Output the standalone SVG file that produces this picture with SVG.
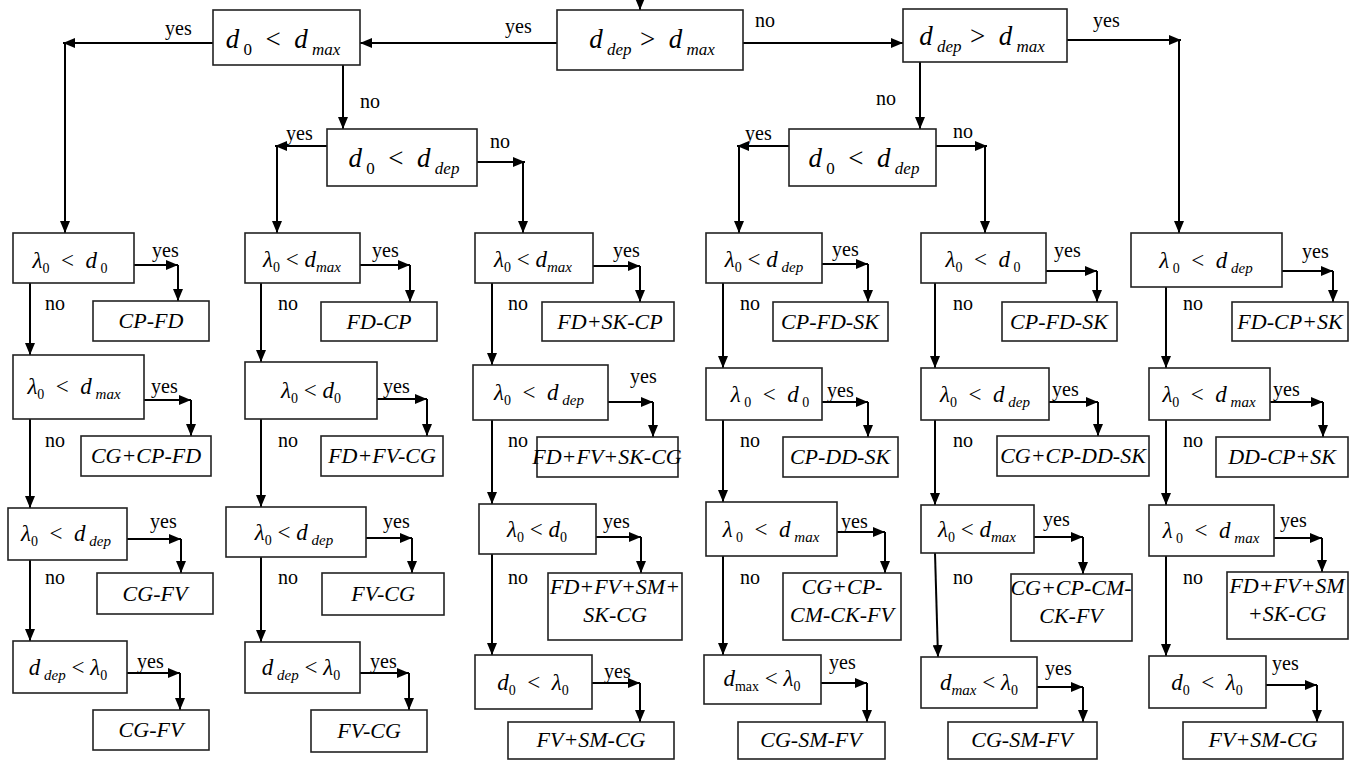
<svg xmlns="http://www.w3.org/2000/svg" width="1350" height="760" viewBox="0 0 1350 760">
<defs>
<marker id="ah" viewBox="0 0 12 10" refX="12" refY="5" markerWidth="12" markerHeight="10" markerUnits="userSpaceOnUse" orient="auto"><path d="M0,0 L12,5 L0,10 z" fill="#000"/></marker>
<style>
text{font-family:"Liberation Serif","Times New Roman","DejaVu Serif",serif;fill:#000}
.box{fill:#fff;stroke:#222;stroke-width:1.6}
.ln{stroke:#000;stroke-width:2;fill:none;marker-end:url(#ah)}
.lbl{font-size:20px}
.res{font-style:italic;font-size:22px;text-anchor:middle}
.dl{font-size:23px;text-anchor:middle;white-space:pre}
.dt{font-size:27px;text-anchor:middle;white-space:pre}
.it{font-style:italic}
.sb{font-size:14px;font-style:normal}
.si{font-size:15px;font-style:italic}
.st{font-size:17px;font-style:italic}
.sn{font-size:17px;font-style:normal}
</style>
</defs>
<rect width="1350" height="760" fill="#fff"/>
<g id="connectors">
<line class="ln" x1="640" y1="-4" x2="640" y2="10"/>
<line class="ln" x1="557" y1="43" x2="360" y2="43"/>
<line class="ln" x1="213" y1="43" x2="63" y2="43"/>
<line class="ln" x1="65" y1="43" x2="65" y2="233"/>
<line class="ln" x1="343" y1="65" x2="343" y2="129"/>
<line class="ln" x1="327" y1="146" x2="275" y2="146"/>
<line class="ln" x1="277" y1="146" x2="277" y2="233"/>
<line class="ln" x1="477" y1="162" x2="525" y2="162"/>
<line class="ln" x1="523" y1="162" x2="523" y2="233"/>
<line class="ln" x1="743" y1="43" x2="903" y2="43"/>
<line class="ln" x1="1067" y1="40" x2="1181" y2="40"/>
<line class="ln" x1="1179" y1="40" x2="1179" y2="233"/>
<line class="ln" x1="920" y1="62" x2="920" y2="129"/>
<line class="ln" x1="789" y1="146" x2="737" y2="146"/>
<line class="ln" x1="739" y1="146" x2="739" y2="233"/>
<line class="ln" x1="936" y1="146" x2="987" y2="146"/>
<line class="ln" x1="985" y1="146" x2="985" y2="233"/>
<line class="ln" x1="30" y1="283" x2="30" y2="355"/>
<line class="ln" x1="30" y1="419" x2="30" y2="508"/>
<line class="ln" x1="30" y1="560" x2="30" y2="641"/>
<line class="ln" x1="134" y1="265" x2="178" y2="265"/>
<line class="ln" x1="178" y1="265" x2="178" y2="301"/>
<line class="ln" x1="144" y1="400" x2="191" y2="400"/>
<line class="ln" x1="191" y1="400" x2="191" y2="436"/>
<line class="ln" x1="127" y1="539" x2="181" y2="539"/>
<line class="ln" x1="181" y1="539" x2="181" y2="573"/>
<line class="ln" x1="127" y1="673" x2="180" y2="673"/>
<line class="ln" x1="180" y1="673" x2="180" y2="710"/>
<line class="ln" x1="261" y1="283" x2="261" y2="362"/>
<line class="ln" x1="261" y1="419" x2="261" y2="507"/>
<line class="ln" x1="261" y1="557" x2="261" y2="642"/>
<line class="ln" x1="360" y1="265" x2="410" y2="265"/>
<line class="ln" x1="410" y1="265" x2="410" y2="302"/>
<line class="ln" x1="377" y1="399" x2="427" y2="399"/>
<line class="ln" x1="427" y1="399" x2="427" y2="436"/>
<line class="ln" x1="366" y1="538" x2="412" y2="538"/>
<line class="ln" x1="412" y1="538" x2="412" y2="573"/>
<line class="ln" x1="360" y1="673" x2="409" y2="673"/>
<line class="ln" x1="409" y1="673" x2="409" y2="710"/>
<line class="ln" x1="492" y1="283" x2="492" y2="365"/>
<line class="ln" x1="492" y1="420" x2="492" y2="504"/>
<line class="ln" x1="492" y1="554" x2="492" y2="655"/>
<line class="ln" x1="593" y1="266" x2="640" y2="266"/>
<line class="ln" x1="640" y1="266" x2="640" y2="302"/>
<line class="ln" x1="608" y1="402" x2="653" y2="402"/>
<line class="ln" x1="653" y1="402" x2="653" y2="437"/>
<line class="ln" x1="596" y1="537" x2="641" y2="537"/>
<line class="ln" x1="641" y1="537" x2="641" y2="573"/>
<line class="ln" x1="592" y1="683" x2="640" y2="683"/>
<line class="ln" x1="640" y1="683" x2="640" y2="722"/>
<line class="ln" x1="723" y1="283" x2="723" y2="368"/>
<line class="ln" x1="723" y1="420" x2="723" y2="502"/>
<line class="ln" x1="723" y1="556" x2="723" y2="655"/>
<line class="ln" x1="822" y1="264" x2="868" y2="264"/>
<line class="ln" x1="868" y1="264" x2="868" y2="302"/>
<line class="ln" x1="822" y1="402" x2="868" y2="402"/>
<line class="ln" x1="868" y1="402" x2="868" y2="437"/>
<line class="ln" x1="837" y1="532" x2="885" y2="532"/>
<line class="ln" x1="885" y1="532" x2="885" y2="573"/>
<line class="ln" x1="821" y1="683" x2="867" y2="683"/>
<line class="ln" x1="867" y1="683" x2="867" y2="722"/>
<line class="ln" x1="935" y1="283" x2="935" y2="368"/>
<line class="ln" x1="935" y1="420" x2="935" y2="505"/>
<line class="ln" x1="935" y1="553" x2="938" y2="657"/>
<line class="ln" x1="1046" y1="271" x2="1097" y2="271"/>
<line class="ln" x1="1097" y1="271" x2="1097" y2="302"/>
<line class="ln" x1="1049" y1="402" x2="1098" y2="402"/>
<line class="ln" x1="1098" y1="402" x2="1098" y2="436"/>
<line class="ln" x1="1034" y1="537" x2="1083" y2="537"/>
<line class="ln" x1="1083" y1="537" x2="1083" y2="574"/>
<line class="ln" x1="1037" y1="687" x2="1083" y2="687"/>
<line class="ln" x1="1083" y1="687" x2="1083" y2="722"/>
<line class="ln" x1="1166" y1="287" x2="1166" y2="368"/>
<line class="ln" x1="1166" y1="420" x2="1166" y2="505"/>
<line class="ln" x1="1166" y1="556" x2="1166" y2="656"/>
<line class="ln" x1="1282" y1="271" x2="1333" y2="271"/>
<line class="ln" x1="1333" y1="271" x2="1333" y2="302"/>
<line class="ln" x1="1270" y1="402" x2="1323" y2="402"/>
<line class="ln" x1="1323" y1="402" x2="1323" y2="437"/>
<line class="ln" x1="1274" y1="538" x2="1322" y2="538"/>
<line class="ln" x1="1322" y1="538" x2="1322" y2="572"/>
<line class="ln" x1="1266" y1="685" x2="1317" y2="685"/>
<line class="ln" x1="1317" y1="685" x2="1317" y2="722"/>
</g>
<g id="edge-labels">
<text class="lbl" x="505" y="33">yes</text>
<text class="lbl" x="755" y="27">no</text>
<text class="lbl" x="165" y="35">yes</text>
<text class="lbl" x="360" y="108">no</text>
<text class="lbl" x="286" y="140">yes</text>
<text class="lbl" x="490" y="148">no</text>
<text class="lbl" x="1093" y="27">yes</text>
<text class="lbl" x="876" y="105">no</text>
<text class="lbl" x="745" y="140">yes</text>
<text class="lbl" x="953" y="138">no</text>
<text class="lbl" x="45" y="310">no</text><text class="lbl" x="45" y="447">no</text><text class="lbl" x="45" y="584">no</text>
<text class="lbl" x="278" y="310">no</text><text class="lbl" x="278" y="447">no</text><text class="lbl" x="278" y="584">no</text>
<text class="lbl" x="508" y="310">no</text><text class="lbl" x="508" y="447">no</text><text class="lbl" x="508" y="584">no</text>
<text class="lbl" x="740" y="310">no</text><text class="lbl" x="740" y="447">no</text><text class="lbl" x="740" y="584">no</text>
<text class="lbl" x="953" y="310">no</text><text class="lbl" x="953" y="447">no</text><text class="lbl" x="953" y="584">no</text>
<text class="lbl" x="1183" y="310">no</text><text class="lbl" x="1183" y="447">no</text><text class="lbl" x="1183" y="584">no</text>
<text class="lbl" x="152" y="257">yes</text>
<text class="lbl" x="151" y="393">yes</text>
<text class="lbl" x="150" y="528">yes</text>
<text class="lbl" x="137" y="668">yes</text>
<text class="lbl" x="372" y="257">yes</text>
<text class="lbl" x="383" y="393">yes</text>
<text class="lbl" x="383" y="528">yes</text>
<text class="lbl" x="370" y="668">yes</text>
<text class="lbl" x="613" y="257">yes</text>
<text class="lbl" x="630" y="383">yes</text>
<text class="lbl" x="603" y="528">yes</text>
<text class="lbl" x="604" y="678">yes</text>
<text class="lbl" x="832" y="256">yes</text>
<text class="lbl" x="827" y="397">yes</text>
<text class="lbl" x="841" y="528">yes</text>
<text class="lbl" x="829" y="669">yes</text>
<text class="lbl" x="1054" y="257">yes</text>
<text class="lbl" x="1052" y="396">yes</text>
<text class="lbl" x="1043" y="526">yes</text>
<text class="lbl" x="1045" y="675">yes</text>
<text class="lbl" x="1302" y="258">yes</text>
<text class="lbl" x="1273" y="396">yes</text>
<text class="lbl" x="1280" y="527">yes</text>
<text class="lbl" x="1272" y="670">yes</text>
</g>
<g id="n-top"><rect class="box" x="557" y="10" width="186" height="60"/><text class="dt" x="652" y="48"><tspan class="it">d</tspan><tspan class="st" dy="7"> dep  </tspan><tspan dy="-7">&gt;  </tspan><tspan class="it">d</tspan><tspan class="st" dy="7"> max</tspan></text></g>
<g id="n-top-left"><rect class="box" x="213" y="10" width="147" height="55"/><text class="dt" x="283" y="48"><tspan class="it">d</tspan><tspan class="sn" dy="7"> 0</tspan><tspan dy="-7">  &lt;  </tspan><tspan class="it">d</tspan><tspan class="st" dy="7"> max</tspan></text></g>
<g id="n-top-right"><rect class="box" x="903" y="9" width="164" height="53"/><text class="dt" x="982" y="45"><tspan class="it">d</tspan><tspan class="st" dy="7"> dep  </tspan><tspan dy="-7">&gt;  </tspan><tspan class="it">d</tspan><tspan class="st" dy="7"> max</tspan></text></g>
<g id="n-mid-left"><rect class="box" x="327" y="129" width="150" height="57"/><text class="dt" x="404" y="167"><tspan class="it">d</tspan><tspan class="sn" dy="7"> 0</tspan><tspan dy="-7">  &lt;  </tspan><tspan class="it">d</tspan><tspan class="st" dy="7"> dep</tspan></text></g>
<g id="n-mid-right"><rect class="box" x="789" y="129" width="147" height="57"/><text class="dt" x="864" y="167"><tspan class="it">d</tspan><tspan class="sn" dy="7"> 0</tspan><tspan dy="-7">  &lt;  </tspan><tspan class="it">d</tspan><tspan class="st" dy="7"> dep</tspan></text></g>
<g id="a1"><rect class="box" x="13" y="233" width="121" height="50"/><text class="dl" x="70" y="268"><tspan class="it">λ</tspan><tspan class="sb" dy="5">0</tspan><tspan dy="-5">  &lt;  </tspan><tspan class="it">d</tspan><tspan class="sb" dy="5"> 0</tspan></text></g>
<g id="ra1"><rect class="box" x="93" y="301" width="116" height="40"/><text class="res" x="151" y="328">CP-FD</text></g>
<g id="a2"><rect class="box" x="13" y="355" width="131" height="64"/><text class="dl" x="74" y="394"><tspan class="it">λ</tspan><tspan class="sb" dy="5">0</tspan><tspan dy="-5">  &lt;  </tspan><tspan class="it">d</tspan><tspan class="si" dy="5"> max</tspan></text></g>
<g id="ra2"><rect class="box" x="81" y="436" width="130" height="40"/><text class="res" x="146" y="463">CG+CP-FD</text></g>
<g id="a3"><rect class="box" x="8" y="508" width="119" height="52"/><text class="dl" x="66" y="541"><tspan class="it">λ</tspan><tspan class="sb" dy="5">0</tspan><tspan dy="-5">  &lt;  </tspan><tspan class="it">d</tspan><tspan class="si" dy="5"> dep</tspan></text></g>
<g id="ra3"><rect class="box" x="97" y="573" width="116" height="41"/><text class="res" x="155" y="601">CG-FV</text></g>
<g id="a4"><rect class="box" x="13" y="641" width="114" height="52"/><text class="dl" x="68" y="675"><tspan class="it">d</tspan><tspan class="si" dy="5"> dep</tspan><tspan dy="-5"> &lt; </tspan><tspan class="it">λ</tspan><tspan class="sb" dy="5">0</tspan></text></g>
<g id="ra4"><rect class="box" x="93" y="710" width="116" height="40"/><text class="res" x="151" y="737">CG-FV</text></g>
<g id="b1"><rect class="box" x="245" y="233" width="115" height="50"/><text class="dl" x="302" y="267"><tspan class="it">λ</tspan><tspan class="sb" dy="5">0</tspan><tspan dy="-5"> &lt; </tspan><tspan class="it">d</tspan><tspan class="si" dy="5">max</tspan></text></g>
<g id="rb1"><rect class="box" x="321" y="302" width="116" height="39"/><text class="res" x="379" y="329">FD-CP</text></g>
<g id="b2"><rect class="box" x="245" y="362" width="132" height="57"/><text class="dl" x="311" y="398"><tspan class="it">λ</tspan><tspan class="sb" dy="5">0</tspan><tspan dy="-5"> &lt; </tspan><tspan class="it">d</tspan><tspan class="sb" dy="5">0</tspan></text></g>
<g id="rb2"><rect class="box" x="321" y="436" width="122" height="40"/><text class="res" x="382" y="463">FD+FV-CG</text></g>
<g id="b3"><rect class="box" x="226" y="507" width="140" height="50"/><text class="dl" x="294" y="540"><tspan class="it">λ</tspan><tspan class="sb" dy="5">0</tspan><tspan dy="-5"> &lt; </tspan><tspan class="it">d</tspan><tspan class="si" dy="5"> dep</tspan></text></g>
<g id="rb3"><rect class="box" x="322" y="573" width="122" height="42"/><text class="res" x="383" y="601">FV-CG</text></g>
<g id="b4"><rect class="box" x="245" y="642" width="115" height="51"/><text class="dl" x="301" y="675"><tspan class="it">d</tspan><tspan class="si" dy="5"> dep</tspan><tspan dy="-5"> &lt; </tspan><tspan class="it">λ</tspan><tspan class="sb" dy="5">0</tspan></text></g>
<g id="rb4"><rect class="box" x="311" y="710" width="116" height="42"/><text class="res" x="369" y="738">FV-CG</text></g>
<g id="c1"><rect class="box" x="475" y="233" width="118" height="50"/><text class="dl" x="533" y="267"><tspan class="it">λ</tspan><tspan class="sb" dy="5">0</tspan><tspan dy="-5"> &lt; </tspan><tspan class="it">d</tspan><tspan class="si" dy="5">max</tspan></text></g>
<g id="rc1"><rect class="box" x="542" y="302" width="132" height="39"/><text class="res" x="610" y="329">FD+SK-CP</text></g>
<g id="c2"><rect class="box" x="473" y="365" width="135" height="55"/><text class="dl" x="539" y="400"><tspan class="it">λ</tspan><tspan class="sb" dy="5">0</tspan><tspan dy="-5">  &lt;  </tspan><tspan class="it">d</tspan><tspan class="si" dy="5"> dep</tspan></text></g>
<g id="rc2"><rect class="box" x="537" y="437" width="141" height="40"/><text class="res" x="607" y="464">FD+FV+SK-CG</text></g>
<g id="c3"><rect class="box" x="479" y="504" width="117" height="50"/><text class="dl" x="537" y="537"><tspan class="it">λ</tspan><tspan class="sb" dy="5">0</tspan><tspan dy="-5"> &lt; </tspan><tspan class="it">d</tspan><tspan class="sb" dy="5">0</tspan></text></g>
<g id="rc3"><rect class="box" x="548" y="573" width="134" height="67"/><text class="res" x="615" y="594">FD+FV+SM+</text><text class="res" x="615" y="622">SK-CG</text></g>
<g id="c4"><rect class="box" x="475" y="655" width="117" height="54"/><text class="dl" x="533" y="690"><tspan class="it">d</tspan><tspan class="sb" dy="5">0</tspan><tspan dy="-5">  &lt;  </tspan><tspan class="it">λ</tspan><tspan class="sb" dy="5">0</tspan></text></g>
<g id="rc4"><rect class="box" x="508" y="722" width="166" height="37"/><text class="res" x="591" y="747">FV+SM-CG</text></g>
<g id="d1"><rect class="box" x="706" y="233" width="116" height="50"/><text class="dl" x="764" y="267"><tspan class="it">λ</tspan><tspan class="sb" dy="5">0</tspan><tspan dy="-5"> &lt; </tspan><tspan class="it">d</tspan><tspan class="si" dy="5"> dep</tspan></text></g>
<g id="rd1"><rect class="box" x="773" y="302" width="115" height="39"/><text class="res" x="830" y="329">CP-FD-SK</text></g>
<g id="d2"><rect class="box" x="706" y="368" width="116" height="52"/><text class="dl" x="770" y="402"><tspan class="it">λ</tspan><tspan class="sb" dy="5"> 0</tspan><tspan dy="-5">  &lt;  </tspan><tspan class="it">d</tspan><tspan class="sb" dy="5"> 0</tspan></text></g>
<g id="rd2"><rect class="box" x="783" y="437" width="115" height="40"/><text class="res" x="840" y="464">CP-DD-SK</text></g>
<g id="d3"><rect class="box" x="706" y="502" width="131" height="54"/><text class="dl" x="771" y="537"><tspan class="it">λ</tspan><tspan class="sb" dy="5"> 0</tspan><tspan dy="-5">  &lt;  </tspan><tspan class="it">d</tspan><tspan class="si" dy="5"> max</tspan></text></g>
<g id="rd3"><rect class="box" x="783" y="573" width="118" height="67"/><text class="res" x="842" y="594">CG+CP-</text><text class="res" x="842" y="622">CM-CK-FV</text></g>
<g id="d4"><rect class="box" x="704" y="655" width="117" height="49"/><text class="dl" x="762" y="686"><tspan class="it">d</tspan><tspan class="sb" dy="5">max</tspan><tspan dy="-5"> &lt; </tspan><tspan class="it">λ</tspan><tspan class="sb" dy="5">0</tspan></text></g>
<g id="rd4"><rect class="box" x="738" y="722" width="147" height="37"/><text class="res" x="811" y="747">CG-SM-FV</text></g>
<g id="e1"><rect class="box" x="921" y="233" width="125" height="50"/><text class="dl" x="983" y="267"><tspan class="it">λ</tspan><tspan class="sb" dy="5">0</tspan><tspan dy="-5">  &lt;  </tspan><tspan class="it">d</tspan><tspan class="sb" dy="5"> 0</tspan></text></g>
<g id="re1"><rect class="box" x="1002" y="302" width="115" height="39"/><text class="res" x="1059" y="329">CP-FD-SK</text></g>
<g id="e2"><rect class="box" x="921" y="368" width="128" height="52"/><text class="dl" x="985" y="402"><tspan class="it">λ</tspan><tspan class="sb" dy="5">0</tspan><tspan dy="-5">  &lt;  </tspan><tspan class="it">d</tspan><tspan class="si" dy="5"> dep</tspan></text></g>
<g id="re2"><rect class="box" x="997" y="436" width="152" height="40"/><text class="res" x="1073" y="463">CG+CP-DD-SK</text></g>
<g id="e3"><rect class="box" x="921" y="505" width="113" height="48"/><text class="dl" x="977" y="537"><tspan class="it">λ</tspan><tspan class="sb" dy="5">0</tspan><tspan dy="-5"> &lt; </tspan><tspan class="it">d</tspan><tspan class="si" dy="5">max</tspan></text></g>
<g id="re3"><rect class="box" x="1011" y="574" width="121" height="67"/><text class="res" x="1071" y="595">CG+CP-CM-</text><text class="res" x="1071" y="623">CK-FV</text></g>
<g id="e4"><rect class="box" x="921" y="657" width="116" height="51"/><text class="dl" x="979" y="690"><tspan class="it">d</tspan><tspan class="si" dy="5">max</tspan><tspan dy="-5"> &lt; </tspan><tspan class="it">λ</tspan><tspan class="sb" dy="5">0</tspan></text></g>
<g id="re4"><rect class="box" x="948" y="722" width="149" height="37"/><text class="res" x="1022" y="747">CG-SM-FV</text></g>
<g id="f1"><rect class="box" x="1131" y="233" width="151" height="54"/><text class="dl" x="1206" y="268"><tspan class="it">λ</tspan><tspan class="sb" dy="5"> 0</tspan><tspan dy="-5">  &lt;  </tspan><tspan class="it">d</tspan><tspan class="si" dy="5"> dep</tspan></text></g>
<g id="rf1"><rect class="box" x="1232" y="302" width="116" height="39"/><text class="res" x="1290" y="329">FD-CP+SK</text></g>
<g id="f2"><rect class="box" x="1149" y="368" width="121" height="52"/><text class="dl" x="1209" y="402"><tspan class="it">λ</tspan><tspan class="sb" dy="5">0</tspan><tspan dy="-5">  &lt;  </tspan><tspan class="it">d</tspan><tspan class="si" dy="5"> max</tspan></text></g>
<g id="rf2"><rect class="box" x="1216" y="437" width="132" height="40"/><text class="res" x="1282" y="464">DD-CP+SK</text></g>
<g id="f3"><rect class="box" x="1149" y="505" width="125" height="51"/><text class="dl" x="1211" y="538"><tspan class="it">λ</tspan><tspan class="sb" dy="5"> 0</tspan><tspan dy="-5">  &lt;  </tspan><tspan class="it">d</tspan><tspan class="si" dy="5"> max</tspan></text></g>
<g id="rf3"><rect class="box" x="1227" y="572" width="121" height="67"/><text class="res" x="1287" y="593">FD+FV+SM</text><text class="res" x="1287" y="621">+SK-CG</text></g>
<g id="f4"><rect class="box" x="1149" y="656" width="117" height="52"/><text class="dl" x="1207" y="690"><tspan class="it">d</tspan><tspan class="sb" dy="5">0</tspan><tspan dy="-5">  &lt;  </tspan><tspan class="it">λ</tspan><tspan class="sb" dy="5">0</tspan></text></g>
<g id="rf4"><rect class="box" x="1183" y="722" width="160" height="37"/><text class="res" x="1263" y="747">FV+SM-CG</text></g>
</svg>
